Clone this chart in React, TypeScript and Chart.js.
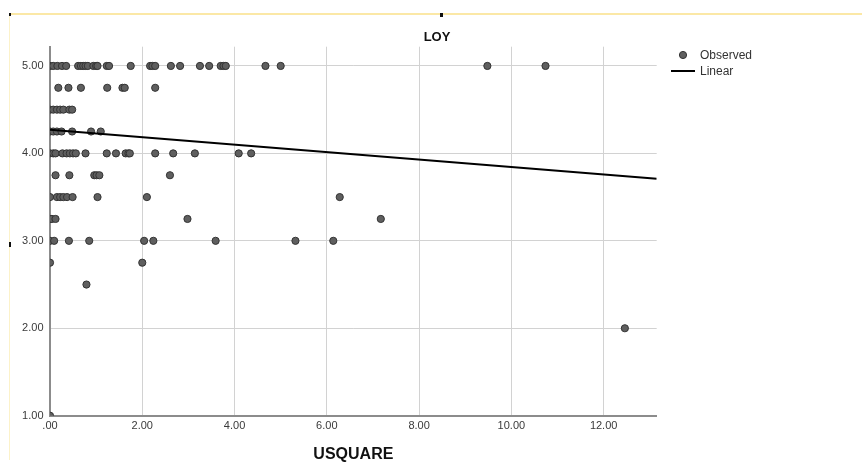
import React, { useEffect, useRef } from "react";
import { Chart, registerables } from "chart.js";

Chart.register(...registerables);

// ---- text ----
const CHART_TITLE = "LOY";
const X_TITLE = "USQUARE";
const LEGEND_OBSERVED = "Observed";
const LEGEND_LINEAR = "Linear";

// ---- axes ----
const X_MIN = 0;
const X_MAX = 13.15;
const X_STEP = 2;
const Y_MIN = 1;
const Y_MAX = 5.22;
const Y_STEP = 1;

// ---- observed values: USQUARE values for each LOY level ----
const loyLevels = [5.0, 4.75, 4.5, 4.25, 4.0, 3.75, 3.5, 3.25, 3.0, 2.75, 2.5, 2.0, 1.0];
const usquareAt500 = [0, 0.07, 0.16, 0.26, 0.35, 0.61, 0.67, 0.72, 0.77, 0.82, 0.94, 1.0, 1.03, 1.23, 1.28, 1.75, 2.17, 2.22, 2.28, 2.62, 2.82, 3.25, 3.45, 3.7, 3.76, 3.81, 4.67, 5.0, 9.48, 10.74];
const usquareAt475 = [0.18, 0.4, 0.67, 1.24, 1.57, 1.62, 2.28];
const usquareAt450 = [0, 0.07, 0.15, 0.22, 0.29, 0.42, 0.48];
const usquareAt425 = [0, 0.07, 0.15, 0.25, 0.48, 0.89, 1.1];
const usquareAt400 = [0, 0.07, 0.12, 0.27, 0.36, 0.43, 0.5, 0.56, 0.77, 1.23, 1.43, 1.64, 1.7, 1.73, 2.28, 2.67, 3.14, 4.09, 4.36];
const usquareAt375 = [0.12, 0.42, 0.96, 1.01, 1.07, 2.6];
const usquareAt350 = [0, 0.15, 0.22, 0.29, 0.37, 0.49, 1.03, 2.1, 6.28];
const usquareAt325 = [0, 0.04, 0.12, 2.98, 7.17];
const usquareAt300 = [0, 0.09, 0.41, 0.85, 2.04, 2.24, 3.59, 5.32, 6.14];
const usquareAt275 = [0, 2.0];
const usquareAt250 = [0.79];
const usquareAt200 = [12.46];
const usquareAt100 = [0];
const usquareByLevel = [
  usquareAt500, usquareAt475, usquareAt450, usquareAt425, usquareAt400, usquareAt375,
  usquareAt350, usquareAt325, usquareAt300, usquareAt275, usquareAt250, usquareAt200, usquareAt100,
];

// ---- linear fit ----
const fitX = [0, 13.15];
const fitY = [4.27, 3.711];

const fmt = (v: number) => (v === 0 ? ".00" : Number(v).toFixed(2));

const FONT = "'Liberation Sans', Arial, sans-serif";

export default function App() {
  const ref = useRef<HTMLCanvasElement | null>(null);

  useEffect(() => {
    if (!ref.current) return;

    const observed: { x: number; y: number }[] = [];
    loyLevels.forEach((lv, i) => {
      usquareByLevel[i].forEach((u) => observed.push({ x: u, y: lv }));
    });
    const fit = fitX.map((x, i) => ({ x, y: fitY[i] }));

    const decor = {
      id: "decor",
      beforeDraw(chart: any) {
        const ctx = chart.ctx;
        ctx.save();
        // frame artifacts of the screenshot
        ctx.fillStyle = "#fbe8a6";
        ctx.fillRect(9, 13, 853, 2);
        ctx.fillStyle = "#fcf2c9";
        ctx.fillRect(9, 14, 1, 446);
        ctx.fillStyle = "#111";
        ctx.fillRect(9, 13, 2, 3);
        ctx.fillRect(440, 13, 3, 4);
        ctx.fillRect(9, 242, 2, 5);
        ctx.restore();
      },
      afterDraw(chart: any) {
        const ctx = chart.ctx;
        ctx.save();
        // title
        ctx.fillStyle = "#111";
        ctx.font = `bold 13px ${FONT}`;
        ctx.textAlign = "center";
        ctx.textBaseline = "middle";
        ctx.fillText(CHART_TITLE, 437, 37);
        // legend
        ctx.font = `12px ${FONT}`;
        ctx.textAlign = "left";
        ctx.fillStyle = "#333";
        ctx.fillText(LEGEND_OBSERVED, 700, 56);
        ctx.fillText(LEGEND_LINEAR, 700, 72);
        ctx.beginPath();
        ctx.arc(683, 55, 3.6, 0, Math.PI * 2);
        ctx.fillStyle = "#5f5f5f";
        ctx.fill();
        ctx.lineWidth = 1;
        ctx.strokeStyle = "#333";
        ctx.stroke();
        ctx.beginPath();
        ctx.moveTo(671, 71);
        ctx.lineTo(695, 71);
        ctx.lineWidth = 2;
        ctx.strokeStyle = "#000";
        ctx.stroke();
        ctx.restore();
      },
    };

    const chart = new Chart(ref.current, {
      type: "scatter",
      data: {
        datasets: [
          {
            label: LEGEND_OBSERVED,
            data: observed,
            pointRadius: 3.6,
            pointBackgroundColor: "#5f5f5f",
            pointBorderColor: "#333",
            pointBorderWidth: 1,
            clip: 0,
            order: 2,
          },
          {
            label: LEGEND_LINEAR,
            data: fit,
            showLine: true,
            borderColor: "#000",
            borderWidth: 2,
            pointRadius: 0,
            clip: 0,
            order: 1,
          } as any,
        ],
      },
      options: {
        animation: false,
        responsive: false,
        layout: { padding: { top: 46.7, right: 205.3, left: 0, bottom: 0 } },
        plugins: {
          legend: { display: false },
          title: { display: false },
          tooltip: { enabled: false },
        },
        scales: {
          x: {
            type: "linear",
            min: X_MIN,
            max: X_MAX,
            ticks: {
              stepSize: X_STEP,
              includeBounds: false,
              callback: (v: any) => fmt(v),
              font: { family: FONT, size: 11 },
              color: "#3a3a3a",
              padding: 4,
              maxRotation: 0,
            },
            grid: { color: "#d2d2d2", lineWidth: 1, drawTicks: false },
            border: { color: "#8c8c8c", width: 2 },
            title: {
              display: true,
              text: X_TITLE,
              font: { family: FONT, size: 16, weight: "bold" },
              color: "#111",
              padding: { top: 0, bottom: 4 },
            },
            afterFit: (s: any) => {
              s.height = 52.3;
            },
          },
          y: {
            type: "linear",
            min: Y_MIN,
            max: Y_MAX,
            ticks: {
              stepSize: Y_STEP,
              includeBounds: false,
              callback: (v: any) => fmt(v),
              font: { family: FONT, size: 11 },
              color: "#3a3a3a",
              padding: 6.5,
            },
            grid: { color: "#d2d2d2", lineWidth: 1, drawTicks: false },
            border: { color: "#8c8c8c", width: 2 },
            afterFit: (s: any) => {
              s.width = 50;
            },
          },
        },
      } as any,
      plugins: [decor],
    });

    return () => chart.destroy();
  }, []);

  return (
    <div style={{ position: "fixed", left: 0, top: 0, width: 862, height: 468, background: "#fff" }}>
      <canvas ref={ref} width={862} height={468} style={{ width: 862, height: 468, display: "block" }} />
    </div>
  );
}
